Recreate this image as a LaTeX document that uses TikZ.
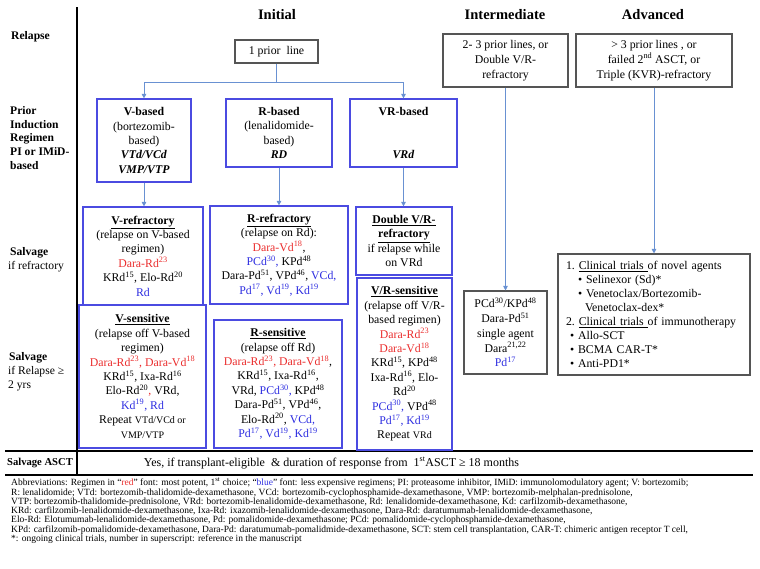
\documentclass[tikz,border=0pt]{standalone}
\usepackage{fontspec}
\setmainfont{Liberation Serif}
\usepackage{tikz}
\usetikzlibrary{arrows.meta}
\definecolor{boxblue}{RGB}{75,75,225}
\definecolor{linkblue}{RGB}{105,145,210}
\definecolor{boxgray}{RGB}{85,85,85}
\definecolor{regred}{RGB}{235,45,45}
\definecolor{regblue}{RGB}{45,45,225}
\newcommand{\rr}[1]{\textcolor{regred}{#1}}
\newcommand{\bb}[1]{\textcolor{regblue}{#1}}
\newcommand{\ttl}[1]{\underline{\textbf{#1}}}
\newcommand{\sps}[1]{\textsuperscript{#1}}
\newcommand{\smalltxt}[1]{{\fontsize{10}{12}\selectfont #1}}

\begin{document}
\begin{tikzpicture}[x=1pt,y=1pt]
\tikzstyle{every node}+=[inner sep=0pt]
\tikzstyle{bluebox}=[draw=boxblue,line width=1.2pt,align=center,font=\fontsize{11.8}{14.4}\selectfont]
\tikzstyle{graybox}=[draw=boxgray,line width=1.1pt,align=center,font=\fontsize{11.8}{14.8}\selectfont]
\tikzstyle{rowlabel}=[anchor=west,align=left,font=\fontsize{11.6}{13.8}\selectfont]
\tikzstyle{header}=[font=\fontsize{14.5}{17}\selectfont\bfseries]
\tikzstyle{link}=[draw=linkblue,line width=0.9pt]
\tikzstyle{linkarrow}=[link,-{Triangle[length=4.5pt,width=4.5pt]}]
\useasboundingbox (0,0) rectangle (760,-568);
\fill [white] (0,0) rectangle (760,-568);
\draw [black,line width=1.6pt] (77,-7) -- (77,-474);
\draw [black,line width=1.6pt] (5,-451) -- (753,-451);
\draw [black,line width=1.6pt] (5,-475) -- (753,-475);
\node (initial) [header] at (277,-15) {Initial};
\node (interm) [header] at (505,-15) {Intermediate};
\node (advanced) [header] at (653,-15) {Advanced};
\node (lrelapse) [rowlabel] at (11,-37) {\textbf{Relapse}};
\node (linduct) [rowlabel] at (10,-138) {\textbf{Prior}\\\textbf{Induction}\\\textbf{Regimen}\\\textbf{PI or IMiD-}\\\textbf{based}};
\node (lrefr) [rowlabel] at (8,-260) {\hspace*{2pt}\textbf{Salvage}\\if refractory};
\node (lsens) [rowlabel] at (8,-372) {\hspace*{1pt}\textbf{Salvage}\\if Relapse ≥\\2 yrs};
\node (lasct) [rowlabel,font=\fontsize{10.6}{13}\selectfont] at (7,-463) {\textbf{Salvage ASCT}};
\node (onepl) [graybox,minimum width=83,minimum height=23] at (276.5,-51.5) {1 prior\ \ line};
\node (intprior) [graybox,minimum width=125,minimum height=53] at (505.5,-60.5) {2- 3 prior lines, or\\Double V/R-\\refractory};
\node (advprior) [graybox,minimum width=156,minimum height=53] at (654,-60.5) {> 3 prior lines , or\\failed 2\sps{nd} ASCT, or\\Triple (KVR)-refractory};
\node (vbased) [bluebox,minimum width=94,minimum height=83] at (144,-140.5) {\textbf{V-based}\\(bortezomib-\\based)\\\textbf{\textit{VTd/VCd}}\\\textbf{\textit{VMP/VTP}}};
\node (rbased) [bluebox,minimum width=106,minimum height=68] at (279,-133) {\textbf{R-based}\\(lenalidomide-\\based)\\\textbf{\textit{RD}}};
\node (vrbased) [bluebox,minimum width=107,minimum height=68] at (403.5,-133) {\textbf{VR-based}\\\mbox{}\\\mbox{}\\\textbf{\textit{VRd}}};
\node (vref) [bluebox,minimum width=120,minimum height=98] at (143,-256) {\ttl{V-refractory}\\(relapse on V-based\\regimen)\\\rr{Dara-Rd\sps{23}}\\KRd\sps{15}, Elo-Rd\sps{20}\\\bb{Rd}};
\node (vsens) [bluebox,minimum width=127,minimum height=143] at (142.5,-376.5) {\ttl{V-sensitive}\\(relapse off V-based\\regimen)\\\rr{Dara-Rd\sps{23}, Dara-Vd\sps{18}}\\KRd\sps{15}, Ixa-Rd\sps{16}\\Elo-Rd\sps{20}\rr{,} VRd,\\\bb{Kd\sps{19}, Rd}\\Repeat \smalltxt{VTd/VCd or}\\\smalltxt{VMP/VTP}};
\node (rref) [bluebox,minimum width=138,minimum height=98] at (279,-255) {\ttl{R-refractory}\\(relapse on Rd):\\\rr{Dara-Vd\sps{18}},\\\bb{PCd\sps{30},} KPd\sps{48}\\Dara-Pd\sps{51}, VPd\sps{46}, \bb{VCd,}\\\bb{Pd\sps{17}, Vd\sps{19}, Kd\sps{19}}};
\node (rsens) [bluebox,minimum width=128,minimum height=128] at (278,-384) {\ttl{R-sensitive}\\(relapse off Rd)\\\rr{Dara-Rd\sps{23}, Dara-Vd\sps{18}},\\KRd\sps{15}, Ixa-Rd\sps{16},\\VRd, \bb{PCd\sps{30},} KPd\sps{48}\\Dara-Pd\sps{51}, VPd\sps{46},\\Elo-Rd\sps{20}, \bb{VCd,}\\\bb{Pd\sps{17}, Vd\sps{19}, Kd\sps{19}}};
\node (vrref) [bluebox,minimum width=96,minimum height=68] at (404,-241) {\ttl{Double V/R-}\\\ttl{refractory}\\if relapse while\\on VRd};
\node (vrsens) [bluebox,minimum width=95,minimum height=172] at (404.5,-364) {\ttl{V/R-sensitive}\\(relapse off V/R-\\based regimen)\\\rr{Dara-Rd\sps{23}}\\\rr{Dara-Vd\sps{18}}\\KRd\sps{15}, KPd\sps{48}\\Ixa-Rd\sps{16}, Elo-\\Rd\sps{20}\\\bb{PCd\sps{30},} VPd\sps{48}\\\bb{Pd\sps{17}, Kd\sps{19}}\\Repeat \smalltxt{VRd}};
\node (intsalv) [graybox,minimum width=83,minimum height=83] at (505.5,-332.5) {PCd\sps{30}/KPd\sps{48}\\Dara-Pd\sps{51}\\single agent\\Dara\sps{21,22}\\\bb{Pd\sps{17}}};
\node (advsalv) [graybox,align=left,text width=176,inner xsep=8pt,minimum height=121,font=\fontsize{11.8}{14}\selectfont] at (654,-314.5) {1.\ \underline{Clinical trials\ }of novel agents\\\hspace*{12pt}\textbullet\ Selinexor (Sd)*\\\hspace*{12pt}\textbullet\ Venetoclax/Bortezomib-\\\hspace*{19pt}Venetoclax-dex*\\2.\ \underline{Clinical trials\ }of immunotherapy\\\hspace*{4pt}\textbullet\ Allo-SCT\\\hspace*{4pt}\textbullet\ BCMA CAR-T*\\\hspace*{4pt}\textbullet\ Anti-PD1*};
\node (asct) [font=\fontsize{12}{14}\selectfont] at (331.5,-463) {Yes, if transplant-eligible\ \ \& duration of response from\ \ 1\sps{st}ASCT ≥ 18 months};
\node (abbrev) [anchor=north west,align=left,font=\fontsize{9.5}{9.3}\selectfont] at (11,-478) {Abbreviations: Regimen in “\rr{red}” font: most potent, 1\sps{st} choice; “\bb{blue}” font: less expensive regimens; PI: proteasome inhibitor, IMiD: immunolomodulatory agent; V: bortezomib;\\R: lenalidomide; VTd: bortezomib-thalidomide-dexamethasone, VCd: bortezomib-cyclophosphamide-dexamethasone, VMP: bortezomib-melphalan-prednisolone,\\VTP: bortezomib-thalidomide-prednisolone, VRd: bortezomib-lenalidomide-dexamethasone, Rd: lenalidomide-dexamethasone, Kd: carfilzomib-dexamethasone,\\KRd: carfilzomib-lenalidomide-dexamethasone, Ixa-Rd: ixazomib-lenalidomide-dexamethasone, Dara-Rd: daratumumab-lenalidomide-dexamethasone,\\Elo-Rd: Elotumumab-lenalidomide-dexamethasone, Pd: pomalidomide-dexamethasone; PCd: pomalidomide-cyclophosphamide-dexamethasone,\\KPd: carfilzomib-pomalidomide-dexamethasone, Dara-Pd: daratumumab-pomalidmide-dexamethasone, SCT: stem cell transplantation, CAR-T: chimeric antigen receptor T cell,\\*: ongoing clinical trials, number in superscript: reference in the manuscript};
\coordinate (split) at (276.5,-82);
\draw [link] (onepl.south) -- (split);
\draw [linkarrow] (split) -| (vbased.north);
\draw [linkarrow] (split) -| (vrbased.north);
\draw [linkarrow] (vbased.south) -- (vbased.south |- vref.north);
\draw [linkarrow] (rbased.south) -- (rbased.south |- rref.north);
\draw [linkarrow] (vrbased.south) -- (vrbased.south |- vrref.north);
\draw [linkarrow] (intprior.south) -- (intprior.south |- intsalv.north);
\draw [linkarrow] (advprior.south) -- (advprior.south |- advsalv.north);
\end{tikzpicture}
\end{document}
